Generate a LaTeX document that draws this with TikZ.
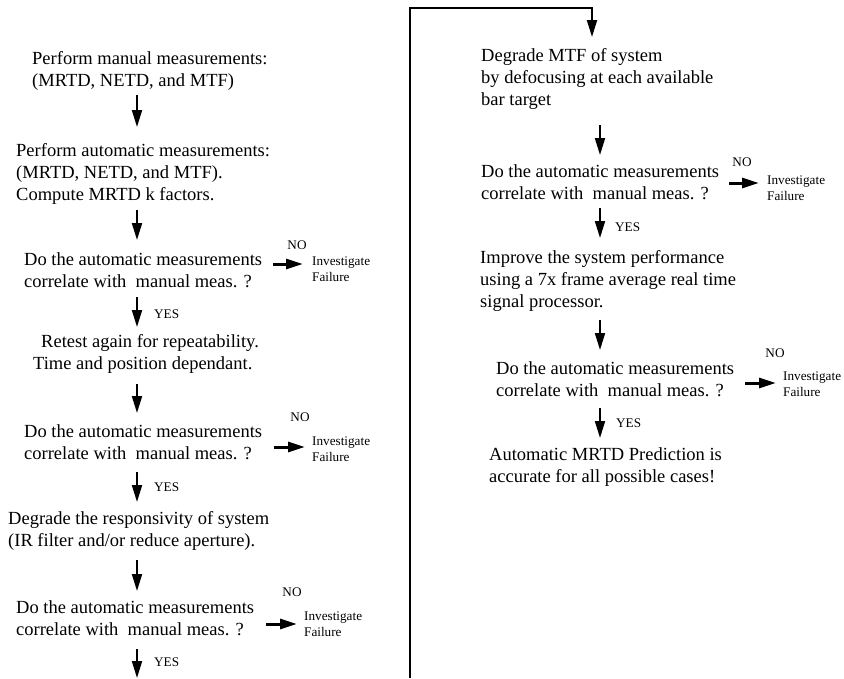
\documentclass[tikz,border=0pt]{standalone}
\usepackage{fontspec}
\setmainfont{Liberation Serif}
\usetikzlibrary{arrows.meta}
\begin{document}
\begin{tikzpicture}[x=1pt,y=-1pt,
  txt/.style={anchor=west,align=left,inner sep=0pt,font=\fontsize{18.5}{22}\selectfont},
  small/.style={inner sep=0pt,font=\fontsize{13.2}{16}\selectfont},
  smallblock/.style={small,anchor=west,align=left},
  yeslbl/.style={small,anchor=west},
  darr/.style={line width=2pt,line join=miter,-{Triangle[length=17pt,width=10pt]}},
  harr/.style={line width=3pt,-{Triangle[length=17pt,width=10pt]}}
]
\useasboundingbox (0,0) rectangle (844,678);

% ---------- left column ----------
\node[txt] (m1) at (32,71) {Perform manual measurements:\\(MRTD, NETD, and MTF)};
\node[txt] (m2) at (16,174) {Perform automatic measurements:\\(MRTD, NETD, and MTF).\\Compute MRTD k factors.};
\node[txt] (d1) at (24,270) {Do the automatic measurements\\correlate with\ \ manual meas. ?};
\node[small] (no1) at (297,245) {NO};
\node[smallblock] (f1) at (312,269) {Investigate\\Failure};
\node[yeslbl] (y1) at (154,314) {YES};
\node[txt] (rt1) at (33,354) {\hspace*{8pt}Retest again for repeatability.\\Time and position dependant.};
\node[txt] (d2) at (24,442) {Do the automatic measurements\\correlate with\ \ manual meas. ?};
\node[small] (no2) at (300,417) {NO};
\node[smallblock] (f2) at (312,449) {Investigate\\Failure};
\node[yeslbl] (y2) at (154,487) {YES};
\node[txt] (dg1) at (8,531) {Degrade the responsivity of system\\(IR filter and/or reduce aperture).};
\node[txt] (d3) at (16,618) {Do the automatic measurements\\correlate with\ \ manual meas. ?};
\node[small] (no3) at (292,592) {NO};
\node[smallblock] (f3) at (304,624) {Investigate\\Failure};
\node[yeslbl] (y3) at (154,662) {YES};

% arrows left
\coordinate (a1s) at (137,95);  \coordinate (a1e) at (137,127);
\coordinate (a2s) at (137,210); \coordinate (a2e) at (137,240);
\coordinate (a3s) at (137,297); \coordinate (a3e) at (137,327);
\coordinate (a4s) at (137,384); \coordinate (a4e) at (137,413);
\coordinate (a5s) at (137,472); \coordinate (a5e) at (137,502);
\coordinate (a6s) at (137,560); \coordinate (a6e) at (137,591);
\coordinate (a7s) at (137,649); \coordinate (a7e) at (137,678);
\foreach \i in {1,...,7} {\draw[darr] (a\i s) -- (a\i e);}

\coordinate (h1s) at (273,264); \coordinate (h1e) at (303,264);
\coordinate (h2s) at (274,447); \coordinate (h2e) at (305,447);
\coordinate (h3s) at (266,624); \coordinate (h3e) at (297,624);

% ---------- link between columns ----------
\coordinate (lb) at (410,678);
\coordinate (rt) at (592,8);
\coordinate (rte) at (592,37);
\draw[darr] (lb) |- (rt) -- (rte);

% ---------- right column ----------
\node[txt] (r1) at (481,79) {Degrade MTF of system\\by defocusing at each available\\bar target};
\node[txt] (rd1) at (481,182) {Do the automatic measurements\\correlate with\ \ manual meas. ?};
\node[small] (rno1) at (742,162) {NO};
\node[smallblock] (rf1) at (767,188) {Investigate\\Failure};
\node[yeslbl] (ry1) at (615,227) {YES};
\node[txt] (r2) at (480,281) {Improve the system performance\\using a 7x frame average real time\\signal processor.};
\node[txt] (rd2) at (496,379) {Do the automatic measurements\\correlate with\ \ manual meas. ?};
\node[small] (rno2) at (775,353) {NO};
\node[smallblock] (rf2) at (783,384) {Investigate\\Failure};
\node[yeslbl] (ry2) at (616,423) {YES};
\node[txt] (r3) at (489,467) {Automatic MRTD Prediction is\\accurate for all possible cases!};

\coordinate (b1s) at (600,125); \coordinate (b1e) at (600,155);
\coordinate (b2s) at (600,208); \coordinate (b2e) at (600,238);
\coordinate (b3s) at (600,320); \coordinate (b3e) at (600,350);
\coordinate (b4s) at (600,408); \coordinate (b4e) at (600,438);
\foreach \i in {1,...,4} {\draw[darr] (b\i s) -- (b\i e);}

\coordinate (h4s) at (729,183); \coordinate (h4e) at (759,183);
\coordinate (h5s) at (745,383); \coordinate (h5e) at (776,383);
\foreach \i in {1,...,5} {\draw[harr] (h\i s) -- (h\i e);}
\end{tikzpicture}
\end{document}
